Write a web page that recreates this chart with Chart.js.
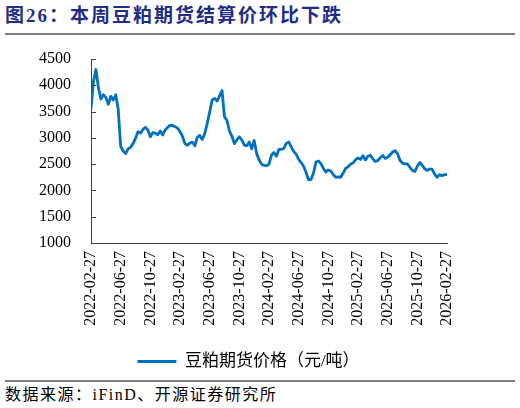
<!DOCTYPE html>
<html>
<head>
<meta charset="utf-8">
<script src="https://cdn.jsdelivr.net/npm/chart.js@4/dist/chart.umd.min.js"></script>
<style>
  html, body { margin: 0; padding: 0; background: #fff; }
  body { width: 520px; height: 408px; position: relative; overflow: hidden; }
  #title { position: absolute; left: 5px; top: 6px; font: bold 19px/19px "Liberation Serif", "Noto Sans CJK SC", serif; letter-spacing: 2px; color: #1F2D86; white-space: nowrap; }
  .rule { position: absolute; left: 5px; width: 510px; height: 2px; background: #7f7f7f; }
  #source { position: absolute; left: 5px; top: 387px; font: 16px/16px "Liberation Serif", "Noto Sans CJK SC", serif; letter-spacing: 1.5px; color: #000; white-space: nowrap; }
  #wrap { position: absolute; left: 0; top: 40px; width: 520px; height: 340px; }
</style>
</head>
<body>
<div id="title">图26：本周豆粕期货结算价环比下跌</div>
<div class="rule" style="top:33px"></div>
<div id="wrap"><canvas id="c"></canvas></div>
<div class="rule" style="top:380px"></div>
<div id="source">数据来源：iFinD、开源证券研究所</div>
<script>
const seriesName = '豆粕期货价格（元/吨）';
const tickLabels = ['2022-02-27','2022-06-27','2022-10-27','2023-02-27','2023-06-27','2023-10-27','2024-02-27','2024-06-27','2024-10-27','2025-02-27','2025-06-27','2025-10-27','2026-02-27'];
const yTicks = [1000, 1500, 2000, 2500, 3000, 3500, 4000, 4500];
const prices = [
  3550, 4070, 4300, 3950, 3740, 3820, 3770, 3640, 3790, 3720,
  3820, 3550, 2840, 2750, 2700, 2790, 2820, 2890, 2990, 3115,
  3090, 3160, 3200, 3150, 3020, 3100, 3090, 3060, 3130, 3055,
  3150, 3200, 3240, 3235, 3210, 3185, 3120, 3030, 2890, 2860,
  2900, 2920, 2850, 3010, 3045, 2970, 3080, 3270, 3490, 3720,
  3750, 3700, 3800, 3900, 3400, 3330, 3130, 3030, 2890, 2965,
  3020, 2960, 2860, 2850, 2920, 2790, 2950, 2700, 2580, 2500,
  2475, 2470, 2500, 2670, 2720, 2650, 2780, 2780, 2800, 2895,
  2920, 2830, 2740, 2690, 2590, 2530, 2460, 2340, 2200, 2210,
  2330, 2540, 2560, 2510, 2420, 2350, 2390, 2370, 2300, 2250,
  2260, 2250, 2330, 2420, 2450, 2500, 2525, 2580, 2620, 2590,
  2660, 2580, 2650, 2670, 2600, 2550, 2570, 2620, 2665, 2610,
  2630, 2680, 2730, 2755, 2700, 2570, 2520, 2505, 2505, 2440,
  2380, 2360, 2460, 2530, 2480, 2410, 2380, 2410, 2400, 2310,
  2250, 2300, 2280, 2300, 2300
];

const perInterval = (prices.length - 1) / (tickLabels.length - 1);
const points = prices.map((v, i) => ({ x: i / perInterval, y: v }));
const serif = '"Liberation Serif", "Noto Sans CJK SC", serif';

const innerTicks = {
  id: 'innerTicks',
  afterDraw(chart) {
    const ys = chart.scales.y, ctx = chart.ctx, left = chart.chartArea.left;
    ctx.save();
    ctx.strokeStyle = '#404040';
    ctx.lineWidth = 1;
    ys.ticks.forEach(t => {
      const y = Math.round(ys.getPixelForValue(t.value)) + 0.5;
      ctx.beginPath();
      ctx.moveTo(left, y);
      ctx.lineTo(left + 5, y);
      ctx.stroke();
    });
    ctx.restore();
  }
};

new Chart(document.getElementById('c'), {
  type: 'line',
  data: {
    datasets: [{
      label: seriesName,
      data: points,
      borderColor: '#0070C0',
      backgroundColor: '#0070C0',
      borderWidth: 2.8,
      pointRadius: 0,
      tension: 0,
      borderJoinStyle: 'round',
      borderCapStyle: 'round'
    }]
  },
  options: {
    responsive: true,
    maintainAspectRatio: false,
    animation: false,
    devicePixelRatio: 1,
    layout: { autoPadding: false, padding: { top: 19, left: 0, right: 23, bottom: 0 } },
    plugins: {
      title: { display: false },
      tooltip: { enabled: false },
      legend: {
        display: true,
        position: 'bottom',
        labels: {
          boxWidth: 39,
          boxHeight: 3,
          padding: 10,
          color: '#000',
          font: { family: serif, size: 17 },
          generateLabels(chart) {
            return [{ text: seriesName, fillStyle: '#0070C0', strokeStyle: '#0070C0', lineWidth: 0, datasetIndex: 0 }];
          }
        }
      }
    },
    scales: {
      x: {
        type: 'linear',
        min: 0,
        max: tickLabels.length - 1,
        afterBuildTicks(scale) { scale.ticks = tickLabels.map((_, i) => ({ value: i })); },
        afterFit(scale) { scale.height = 100; scale.paddingLeft = 0; scale.paddingRight = 0; },
        grid: { display: true, drawOnChartArea: false, drawTicks: false, tickLength: 0 },
        border: { display: true, color: '#404040', width: 1 },
        ticks: {
          autoSkip: false,
          maxRotation: 90,
          minRotation: 90,
          padding: 8,
          color: '#000',
          font: { family: serif, size: 16 },
          callback: (v) => tickLabels[v] ?? ''
        }
      },
      y: {
        min: yTicks[0],
        max: yTicks[yTicks.length - 1],
        afterBuildTicks(scale) { scale.ticks = yTicks.map(v => ({ value: v })); },
        afterFit(scale) { scale.width = 91; scale.paddingTop = 0; scale.paddingBottom = 0; },
        grid: { display: true, drawOnChartArea: false, drawTicks: false, tickLength: 0 },
        border: { display: true, color: '#404040', width: 1 },
        ticks: {
          padding: 20,
          color: '#000',
          font: { family: serif, size: 16 },
          callback: (v) => String(v)
        }
      },
      yRightSpace: {
        type: 'linear',
        position: 'right',
        min: yTicks[0],
        max: yTicks[yTicks.length - 1],
        afterFit(scale) { scale.width = 50; scale.paddingTop = 0; scale.paddingBottom = 0; },
        grid: { display: false },
        border: { display: false },
        ticks: { display: false }
      }
    }
  },
  plugins: [innerTicks]
});
</script>
</body>
</html>
